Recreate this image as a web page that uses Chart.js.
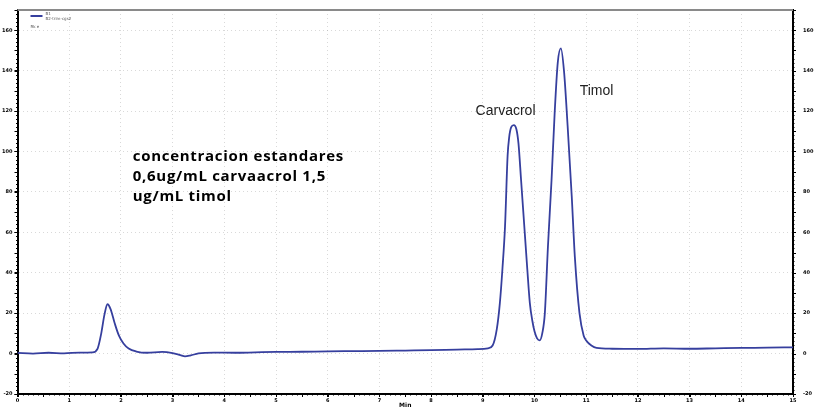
<!DOCTYPE html>
<html>
<head>
<meta charset="utf-8">
<script src="https://cdn.jsdelivr.net/npm/chart.js@4.4.1/dist/chart.umd.min.js"></script>
<style>
  html, body { margin: 0; padding: 0; background: #fff; }
  #wrap { width: 814px; height: 409px; }
</style>
</head>
<body>
<div id="wrap"><canvas id="chrom" width="814" height="409"></canvas></div>
<script>
// ── DATA ────────────────────────────────────────────────────────────────────
// retention time (min) and detector response
var timeMin = [
  0, 0.3, 0.6, 0.9, 1.2, 1.45, 1.55, 1.62, 1.68, 1.74, 1.80, 1.88, 1.96, 2.05, 2.15, 2.3, 2.5, 2.8,
  3.0, 3.15, 3.24, 3.35, 3.5, 3.8, 4.2, 4.6, 5.0, 5.5, 6.0, 6.5, 7.0, 7.5, 8.0, 8.5, 8.9, 9.1,
  9.19, 9.27, 9.33, 9.38, 9.43, 9.48, 9.51, 9.55, 9.60, 9.65, 9.69, 9.74, 9.80, 9.86, 9.91, 9.96,
  10.0, 10.05, 10.10, 10.15, 10.2, 10.26, 10.33, 10.39, 10.45, 10.51, 10.57, 10.64, 10.72, 10.78,
  10.87, 10.95, 11.0, 11.1, 11.2, 11.5, 12, 12.5, 13, 13.5, 14, 14.5, 15
];
var response = [
  0.3, 0.0, 0.4, 0.1, 0.5, 0.6, 2.5, 10, 19, 24.4, 22, 15, 9, 5, 2.5, 1, 0.4, 0.8,
  0.2, -0.8, -1.4, -0.9, 0.1, 0.5, 0.4, 0.6, 0.8, 0.9, 1.1, 1.2, 1.3, 1.5, 1.7, 2.0, 2.2, 2.6,
  4, 12, 25, 42, 63, 98, 107, 112, 113, 111, 104, 86, 64, 42, 25, 16,
  11, 7.5, 6.5, 10, 20, 53, 86, 119, 144, 151, 140, 113, 78, 48,
  20, 9, 6.5, 4, 2.8, 2.4, 2.3, 2.6, 2.4, 2.6, 2.8, 2.9, 3.1
];

var xTicks = [0, 1, 2, 3, 4, 5, 6, 7, 8, 9, 10, 11, 12, 13, 14, 15];
var yTicks = [-20, 0, 20, 40, 60, 80, 100, 120, 140, 160];

var peakLabels = [
  { text: 'Carvacrol', x: 9.44, y: 120 },
  { text: 'Timol', x: 11.2, y: 130 }
];
var noteLines = ['concentracion estandares', '0,6ug/mL carvaacrol 1,5', 'ug/mL timol'];
var noteAt = { x: 2.23, y: 97.5 };
var legendLines = ['B1', 'B2-trim-cgs2', 'Rk e'];

// ── HELPERS ─────────────────────────────────────────────────────────────────
var points = [];
for (var i = 0; i < timeMin.length; i++) points.push({ x: timeMin[i], y: response[i] });

function fixTicks(list) {
  return function(scale) {
    scale.ticks = list.map(function(v) { return { value: v }; });
  };
}

var traceColor = '#363f9e';
var gridColor = 'rgba(160,160,160,0.4)';
var tickFont = { family: 'DejaVu Sans', size: 5, weight: 'bold' };

// minor ticks, top frame, legend and text notes
var decorPlugin = {
  id: 'decor',
  afterDraw: function(chart) {
    var ctx = chart.ctx, a = chart.chartArea;
    var sx = chart.scales.x, sy = chart.scales.y;

    ctx.save();
    // top frame line
    ctx.strokeStyle = '#8a8a8a';
    ctx.lineWidth = 2;
    ctx.beginPath();
    ctx.moveTo(a.left, a.top);
    ctx.lineTo(a.right, a.top);
    ctx.stroke();

    // minor ticks along the axes
    ctx.strokeStyle = '#000';
    ctx.lineWidth = 1;
    ctx.beginPath();
    for (var t = 0; t <= 15.001; t += 0.1) {
      var px = Math.round(sx.getPixelForValue(t)) + 0.5;
      var len = (Math.abs(t * 2 - Math.round(t * 2)) < 0.01) ? 3 : 1.5;
      ctx.moveTo(px, a.bottom);
      ctx.lineTo(px, a.bottom + len);
    }
    for (var v = -20; v <= 170; v += 2) {
      var py = Math.round(sy.getPixelForValue(v)) + 0.5;
      var l2 = (v % 10 === 0) ? 3 : 1.5;
      ctx.moveTo(a.left, py);
      ctx.lineTo(a.left - l2, py);
      ctx.moveTo(a.right, py);
      ctx.lineTo(a.right + l2, py);
    }
    ctx.stroke();

    // legend
    ctx.strokeStyle = traceColor;
    ctx.lineWidth = 2;
    ctx.beginPath();
    ctx.moveTo(a.left + 13, a.top + 6);
    ctx.lineTo(a.left + 25, a.top + 6);
    ctx.stroke();
    ctx.fillStyle = '#555';
    ctx.font = '4px "DejaVu Sans"';
    ctx.textBaseline = 'middle';
    ctx.textAlign = 'left';
    ctx.fillText(legendLines[0], a.left + 28, a.top + 4);
    ctx.fillText(legendLines[1], a.left + 28, a.top + 9);
    ctx.fillText(legendLines[2], a.left + 13, a.top + 17);

    // peak names
    ctx.fillStyle = '#222';
    ctx.font = '14px "Liberation Sans"';
    ctx.textAlign = 'center';
    peakLabels.forEach(function(p) {
      ctx.fillText(p.text, sx.getPixelForValue(p.x), sy.getPixelForValue(p.y));
    });

    // standards note
    ctx.fillStyle = '#000';
    ctx.font = 'bold 15px "Open Sans"';
    ctx.letterSpacing = '0.7px';
    ctx.textAlign = 'left';
    var nx = sx.getPixelForValue(noteAt.x), ny = sy.getPixelForValue(noteAt.y);
    noteLines.forEach(function(s, k) {
      ctx.fillText(s, nx, ny + k * 20);
    });
    ctx.restore();
  }
};

// ── CHART ───────────────────────────────────────────────────────────────────
new Chart(document.getElementById('chrom'), {
  type: 'line',
  data: {
    datasets: [{
      label: 'B1',
      data: points,
      borderColor: traceColor,
      borderWidth: 1.8,
      pointRadius: 0,
      tension: 0.4,
      cubicInterpolationMode: 'monotone',
      fill: false
    }]
  },
  options: {
    responsive: false,
    animation: false,
    devicePixelRatio: 1,
    layout: { padding: { top: 10, left: 0, right: 0, bottom: 0 } },
    plugins: {
      legend: { display: false },
      tooltip: { enabled: false }
    },
    scales: {
      x: {
        type: 'linear',
        min: 0,
        max: 15,
        afterBuildTicks: fixTicks(xTicks),
        afterFit: function(s) { s.height = 15; },
        grid: { color: gridColor, lineWidth: 1, drawTicks: true, tickLength: 3, tickColor: '#000', tickWidth: 1 },
        border: { color: '#000', width: 2, dash: [1, 3] },
        ticks: { color: '#000', font: tickFont, padding: 1, maxRotation: 0, autoSkip: false },
        title: { display: true, text: 'Min', color: '#000', font: { family: 'DejaVu Sans', size: 6, weight: 'bold' }, padding: { top: 0, bottom: 0 } }
      },
      y: {
        position: 'left',
        min: -20,
        max: 170,
        afterBuildTicks: fixTicks(yTicks),
        afterFit: function(s) { s.width = 17.5; },
        grid: { color: gridColor, lineWidth: 1, drawTicks: true, tickLength: 3, tickColor: '#000', tickWidth: 1 },
        border: { color: '#000', width: 2, dash: [1, 3] },
        ticks: { color: '#000', font: tickFont, padding: 2 }
      },
      y2: {
        position: 'right',
        min: -20,
        max: 170,
        afterBuildTicks: fixTicks(yTicks),
        afterFit: function(s) { s.width = 21; },
        grid: { display: false, drawOnChartArea: false },
        border: { color: '#000', width: 2 },
        ticks: { color: '#000', font: tickFont, padding: 2 }
      }
    }
  },
  plugins: [decorPlugin]
});
</script>
</body>
</html>
